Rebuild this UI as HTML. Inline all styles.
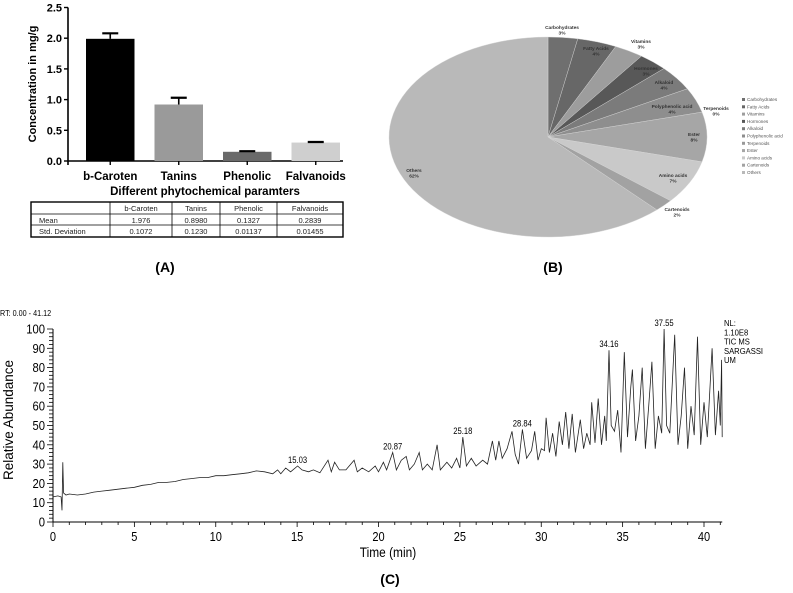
<!DOCTYPE html>
<html><head><meta charset="utf-8"><style>
html,body{margin:0;padding:0;background:#fff;overflow:hidden;}
svg{display:block;font-family:"Liberation Sans",sans-serif;}
</style></head><body>
<svg id="fig" width="793" height="593" viewBox="0 0 793 593" xmlns="http://www.w3.org/2000/svg">
<g id="panelA"></g>
<g id="panelB"></g>
<g id="panelC"></g>
<text x="165" y="272" font-size="14" font-weight="bold" text-anchor="middle">(A)</text>
<text x="553" y="272" font-size="14" font-weight="bold" text-anchor="middle">(B)</text>
<text x="390" y="584" font-size="14" font-weight="bold" text-anchor="middle">(C)</text>
</svg>
<script>
// ---- Panel A data ----
const barCats = ["b-Caroten","Tanins","Phenolic","Falvanoids"];
const barVals = [1.99,0.92,0.15,0.30];
const barErr = [0.09,0.11,0.01,0.01];
const barColors = ["#000","#9a9a9a","#6a6a6a","#cfcfcf"];
const barTicks = [0,0.5,1.0,1.5,2.0,2.5];
const tableRows = [["","b-Caroten","Tanins","Phenolic","Falvanoids"],["Mean","1.976","0.8980","0.1327","0.2839"],["Std. Deviation","0.1072","0.1230","0.01137","0.01455"]];
// ---- Panel B data ----
const pieNames = ["Carbohydrates","Fatty Acids","Vitamins","Hormones","Alkaloid","Polyphenolic acid","Terpenoids","Ester","Amino acids","Cartenoids","Others"];
const piePct = [3,4,3,3,4,4,0,8,7,2,62];
const pieColors = ["#6f6f6f","#676767","#9d9d9d","#585858","#7b7b7b","#8e8e8e","#999","#a6a6a6","#c9c9c9","#a2a2a2","#b9b9b9"];
// ---- Panel C data ----
const chromT = [0,0.3,0.5,0.55,0.6,0.65,0.8,1,1.5,2,2.5,3,3.5,4,4.5,5,5.5,6,6.5,7,7.5,8,8.5,9,9.5,10,10.5,11,11.5,12,12.5,13,13.5,13.8,14,14.3,14.6,15.03,15.3,15.7,16,16.4,16.9,17.1,17.3,17.6,18,18.5,18.7,19,19.4,19.8,20,20.3,20.5,20.87,21.1,21.4,21.7,21.9,22.2,22.5,22.7,23,23.3,23.6,23.8,24.2,24.5,24.8,25,25.18,25.4,25.7,26,26.4,26.7,27,27.2,27.4,27.6,27.9,28.2,28.4,28.6,28.84,29.1,29.4,29.6,29.8,30,30.2,30.3,30.5,30.7,30.9,31.1,31.3,31.5,31.7,31.9,32.1,32.4,32.6,32.8,33,33.1,33.3,33.5,33.7,33.9,34.0,34.16,34.3,34.5,34.7,34.9,35.1,35.3,35.5,35.6,35.8,36.0,36.2,36.4,36.6,36.8,37.0,37.2,37.4,37.55,37.7,37.9,38.2,38.4,38.6,38.8,39.0,39.2,39.4,39.6,39.8,40.0,40.2,40.5,40.7,40.9,41.0,41.08,41.12];
const chromV = [13,13.5,13,6,31,15,14,14.5,14,14.5,15.5,16,16.5,17,17.5,18,19,19.5,20.5,20.5,21,22,22.5,23,23,24,24,24.5,25,25.5,26.5,26,25,27,25,28,26,29,27,26,27,25.5,32,26,31,27,27,32,26,28,26,29,26,31,27,36,27,32,34,27,30,36,27,30,27,40,27,31,28,33,28,44,29,33,29,32,30,42,32,42,33,38,47,35,30,48,33,37,47,32,38,37,54,36,46,34,52,40,57,38,56,36,53,38,46,40,62,41,64,40,55,42,89,50,47,58,36,88,44,70,79,42,55,80,38,60,83,38,55,46,100,50,46,97,40,55,80,38,60,45,96,40,62,44,90,45,68,50,84,44];
const peakLabels = [15.03,20.87,25.18,28.84,34.16,37.55];
const xTicksC = [0,5,10,15,20,25,30,35,40];
const yTicksC = [0,10,20,30,40,50,60,70,80,90,100];

const NS="http://www.w3.org/2000/svg";
function mk(parent,tag,attrs,text){const e=document.createElementNS(NS,tag);for(const k in attrs)e.setAttribute(k,attrs[k]);if(text!==undefined)e.textContent=text;parent.appendChild(e);return e;}

// ---------- Panel A ----------
(function(){
const g=document.getElementById('panelA');
const y0=161, pxPer=61.4, ax=68, axEnd=343;
const ys=v=>y0-v*pxPer;
const bandL=76, bandW=68.5, barW=48.5;
const bx=i=>bandL+i*bandW+(bandW-barW)/2;
let e=mk(g,'line',{x1:ax,y1:ys(2.5),x2:ax,y2:y0+4,stroke:'#000','stroke-width':1.6});


e=mk(g,'line',{x1:ax,y1:y0,x2:axEnd,y2:y0,stroke:'#000','stroke-width':1.6});


barTicks.forEach(t=>{
 mk(g,'line',{x1:ax-4,y1:ys(t),x2:ax,y2:ys(t),stroke:'#000','stroke-width':1.4});
 e=mk(g,'text',{x:ax-6,y:ys(t)+4,'font-size':11,'font-weight':'bold','text-anchor':'end'},t.toFixed(1));
 
 
});
barCats.forEach((c,i)=>{
 const x=bx(i);
 e=mk(g,'rect',{x:x,y:ys(barVals[i]),width:barW,height:y0-ys(barVals[i]),fill:barColors[i]});
 
 
 const cx=x+barW/2, top=ys(barVals[i]+barErr[i]);
 mk(g,'line',{x1:cx,y1:ys(barVals[i]),x2:cx,y2:top,stroke:'#000','stroke-width':1.6});
 e=mk(g,'line',{x1:cx-8,y1:top,x2:cx+8,y2:top,stroke:'#000','stroke-width':2.2});
 
 
 mk(g,'line',{x1:cx,y1:y0,x2:cx,y2:y0+4,stroke:'#000','stroke-width':1.4});
 e=mk(g,'text',{x:cx,y:180,'font-size':11.5,'font-weight':'bold','text-anchor':'middle'},c);
 
 
});
e=mk(g,'text',{x:205,y:195,'font-size':11.5,'font-weight':'bold','text-anchor':'middle'},'Different phytochemical paramters');


e=mk(g,'text',{x:0,y:0,'font-size':11,'font-weight':'bold','text-anchor':'middle',transform:'translate(36,84) rotate(-90)'},'Concentration in mg/g');


const tx=[31,110,172,220,277,343], ty=[202,214,225,237];
const tb=mk(g,'g',{});


mk(tb,'rect',{x:31,y:202,width:312,height:35,fill:'none',stroke:'#000','stroke-width':1.4});
[214,225].forEach(y=>mk(tb,'line',{x1:31,y1:y,x2:343,y2:y,stroke:'#000','stroke-width':0.8}));
[110,172,220,277].forEach(x=>mk(tb,'line',{x1:x,y1:202,x2:x,y2:237,stroke:'#000','stroke-width':0.8}));
tableRows.forEach((row,r)=>row.forEach((cell,c)=>{
 if(!cell)return;
 const x=c===0?tx[0]+8:(tx[c]+tx[c+1])/2;
 e=mk(tb,'text',{x:x,y:ty[r]+9,'font-size':7.5,fill:'#222','text-anchor':c===0?'start':'middle'},cell);
 
 
}));
})();

// ---------- Panel B ----------
(function(){
const g=document.getElementById('panelB');
const cx=548,cy=137,rx=159,ry=100;
const pt=a=>[cx+rx*Math.sin(a),cy-ry*Math.cos(a)];
const total=piePct.reduce((a,b)=>a+b,0);
let acc=0, e;
piePct.forEach((p,i)=>{
 const a0=acc/total*2*Math.PI; acc+=p; const a1=acc/total*2*Math.PI;
 if(p<=0)return;
 const [x0,y0]=pt(a0),[x1,y1]=pt(a1);
 e=mk(g,'path',{d:`M${cx},${cy}L${x0},${y0}A${rx},${ry} 0 ${a1-a0>Math.PI?1:0} 1 ${x1},${y1}Z`,fill:pieColors[i],stroke:'#d8d8d8','stroke-width':0.4});
 
 
});
const lab=[[562,29],[596,50],[641,43],[646,70],[664,84],[672,108],[716,110],[694,136],[673,177],[677,211],[414,172]];
pieNames.forEach((n,i)=>{
 e=mk(g,'text',{x:lab[i][0],y:lab[i][1],'font-size':4.8,'font-weight':'bold',fill:'#333','text-anchor':'middle'},n);
 
 
 mk(g,'text',{x:lab[i][0],y:lab[i][1]+5.5,'font-size':4.8,'font-weight':'bold',fill:'#333','text-anchor':'middle'},piePct[i]+'%');
 const ly=101+i*7.3;
 const lg=mk(g,'g',{});
 
 
 mk(lg,'rect',{x:742,y:ly-3,width:3,height:3,fill:pieColors[i]});
 mk(lg,'text',{x:747,y:ly,'font-size':4.6,fill:'#555'},n);
});
})();

// ---------- Panel C ----------
(function(){
const g=document.getElementById('panelC');
const X0=53,Xpx=(704-53)/40,Y0=522,Ypx=(522-329)/100;
const xs=t=>X0+t*Xpx, ys=v=>Y0-v*Ypx;
let e;
e=mk(g,'line',{x1:X0,y1:ys(100),x2:X0,y2:Y0,stroke:'#000','stroke-width':1});


e=mk(g,'line',{x1:X0,y1:Y0,x2:xs(41.12),y2:Y0,stroke:'#000','stroke-width':1});


for(let v=0;v<=100;v+=2){mk(g,'line',{x1:X0-(v%10===0?6:4),y1:ys(v),x2:X0,y2:ys(v),stroke:'#000','stroke-width':0.8});}
yTicksC.forEach(v=>{
 e=mk(g,'text',{x:(X0-8)/0.9,y:ys(v)+4.5,'font-size':12.5,'text-anchor':'end',transform:'scale(0.9,1)'},String(v));
 
 
});
for(let t=0;t<=41;t++){mk(g,'line',{x1:xs(t),y1:Y0,x2:xs(t),y2:Y0+(t%5===0?5:3),stroke:'#000','stroke-width':0.8});}
xTicksC.forEach(t=>{
 e=mk(g,'text',{x:xs(t)/0.85,y:Y0+19,'font-size':13,'text-anchor':'middle',transform:'scale(0.85,1)'},String(t));
 
 
});
const d=chromT.map((t,i)=>(i?'L':'M')+xs(t).toFixed(1)+','+ys(chromV[i]).toFixed(1)).join('');
e=mk(g,'path',{d:d,fill:'none',stroke:'#222','stroke-width':0.8});


peakLabels.forEach(t=>{
 const i=chromT.indexOf(t); const v=chromV[i];
 e=mk(g,'text',{x:xs(t)/0.85,y:ys(v)-3,'font-size':9,'text-anchor':'middle',transform:'scale(0.85,1)'},t.toFixed(2));
 
 
});
e=mk(g,'text',{x:0,y:0,'font-size':13.5,'text-anchor':'middle',transform:'translate(13,420) rotate(-90)'},'Relative Abundance');


e=mk(g,'text',{x:388/0.85,y:557,'font-size':14,'text-anchor':'middle',transform:'scale(0.85,1)'},'Time (min)');


e=mk(g,'text',{x:0,y:316,'font-size':8,transform:'scale(0.9,1)'},'RT:    0.00 - 41.12');


const nl=['NL:','1.10E8','TIC  MS','SARGASSI','UM'];
nl.forEach((s,i)=>{
 e=mk(g,'text',{x:724/0.9,y:326+i*9.3,'font-size':8.5,transform:'scale(0.9,1)'},s);
 
 
});
})();
</script>
</body></html>
